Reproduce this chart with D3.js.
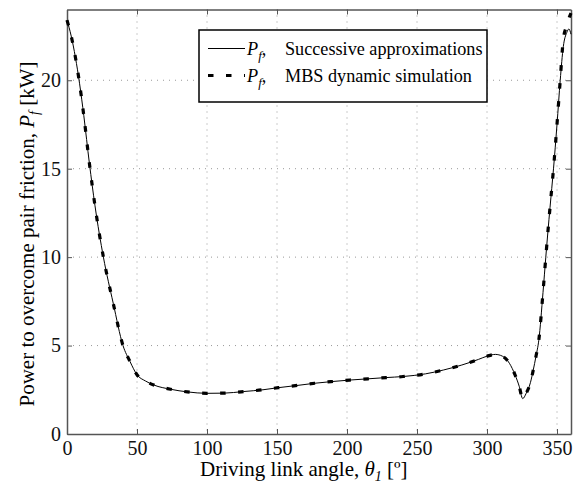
<!DOCTYPE html>
<html>
<head>
<meta charset="utf-8">
<script src="https://cdn.jsdelivr.net/npm/d3@7"></script>
<style>
  body { margin: 0; background: #fff; }
  text, tspan { font-family: 'Liberation Serif', 'Times New Roman', Times, serif; }
</style>
</head>
<body>
<svg id="chart" width="575" height="483"></svg>
<script>
// driving link angle [deg]
var thetaDeg = [0, 3, 6, 9, 12, 16, 20, 26, 33, 40, 45, 50, 56, 62, 74, 86, 100, 112, 126, 140,
  151, 165, 177, 190, 202, 215, 228, 240, 256, 269, 282, 294, 300, 306, 311, 316, 320, 323,
  325.5, 328, 331, 333, 335, 337, 340, 342, 345, 347.5, 350, 352.3, 354.5, 357, 358.5, 360];
// P_f, successive approximations [kW]
var pSuccessive = [23.4, 22.5, 21.3, 19.8, 18.0, 15.3, 12.9, 10.0, 7.4, 5.0, 4.1, 3.35, 3.0, 2.77, 2.53, 2.38, 2.30, 2.31, 2.40, 2.50,
  2.62, 2.75, 2.87, 2.97, 3.05, 3.12, 3.19, 3.25, 3.40, 3.62, 3.90, 4.22, 4.40, 4.50, 4.40, 4.00, 3.35, 2.70,
  2.00, 2.30, 2.90, 3.60, 4.40, 5.30, 8.0, 10.0, 12.8, 15.0, 17.5, 20.0, 21.9, 22.7, 22.9, 22.6];
// P_f, MBS dynamic simulation [kW]
var pMBS = [23.4, 22.5, 21.3, 19.8, 18.0, 15.3, 12.9, 10.0, 7.4, 5.0, 4.1, 3.35, 3.0, 2.77, 2.53, 2.38, 2.30, 2.31, 2.40, 2.50,
  2.62, 2.75, 2.87, 2.97, 3.05, 3.12, 3.19, 3.25, 3.40, 3.62, 3.90, 4.22, 4.40, 4.50, 4.40, 4.00, 3.35, 2.70,
  2.00, 2.30, 2.90, 3.60, 4.40, 5.30, 8.0, 10.0, 12.8, 15.0, 17.5, 20.0, 22.3, 23.1, 23.5, 23.8];
var xTicks = [0, 50, 100, 150, 200, 250, 300, 350];
var yTicks = [0, 5, 10, 15, 20];

var serif = "'Liberation Serif', 'Times New Roman', Times, serif";
var margin = {top: 9.5, right: 4, bottom: 49, left: 67},
  width = 575 - margin.left - margin.right,
  height = 483 - margin.top - margin.bottom;

var svg = d3.select('#chart').attr('font-family', serif);
var g = svg.append('g')
  .attr('transform', 'translate(' + margin.left + ',' + margin.top + ')');

var x = d3.scaleLinear().domain([0, 360]).range([0, width]);
var y = d3.scaleLinear().domain([0, 24]).range([height, 0]);

// grid
g.append('g').selectAll('line').data(xTicks.filter(function(d) { return d > 0; }))
  .enter().append('line')
  .attr('x1', x).attr('x2', x).attr('y1', 0).attr('y2', height)
  .attr('stroke', '#999').attr('stroke-width', 1).attr('stroke-dasharray', '1,5');
g.append('g').selectAll('line').data(yTicks.filter(function(d) { return d > 0; }))
  .enter().append('line')
  .attr('y1', y).attr('y2', y).attr('x1', 0).attr('x2', width)
  .attr('stroke', '#999').attr('stroke-width', 1).attr('stroke-dasharray', '1,5');

// axes (ticks inward, matlab style)
var xAxis = g.append('g').attr('transform', 'translate(0,' + height + ')')
  .call(d3.axisBottom(x).tickValues(xTicks).tickSizeInner(-5).tickSizeOuter(0));
var yAxis = g.append('g')
  .call(d3.axisLeft(y).tickValues(yTicks).tickSizeInner(-5).tickSizeOuter(0).tickPadding(6));
g.append('g').attr('transform', 'translate(' + width + ',0)')
  .call(d3.axisRight(y).tickValues(yTicks).tickSizeInner(-5).tickSizeOuter(0).tickFormat(''));
g.append('g')
  .call(d3.axisTop(x).tickValues(xTicks).tickSizeInner(-5).tickSizeOuter(0).tickFormat(''));
g.selectAll('g').attr('font-family', serif);
g.selectAll('.domain').attr('stroke', '#555').attr('stroke-width', 1.5);
g.selectAll('.tick line').attr('stroke', '#555');
g.selectAll('.tick text').attr('fill', '#111')
  .attr('font-family', serif).attr('font-size', 20);
xAxis.selectAll('.tick text').attr('y', 20.5).attr('dy', 0);

// curves
var line = d3.line().curve(d3.curveMonotoneX);
var solidPts = thetaDeg.map(function(t, i) { return [x(t), y(pSuccessive[i])]; });
var dashPts = thetaDeg.map(function(t, i) { return [x(t), y(pMBS[i])]; });

g.append('path').attr('d', line(solidPts))
  .attr('fill', 'none').attr('stroke', '#000').attr('stroke-width', 1);
g.append('path').attr('d', line(dashPts))
  .attr('fill', 'none').attr('stroke', '#000').attr('stroke-width', 3.2)
  .attr('stroke-dasharray', '5.5,12.5');

// legend
var lg = svg.append('g').attr('transform', 'translate(199,30)');
lg.append('rect').attr('width', 288).attr('height', 72)
  .attr('fill', '#fff').attr('stroke', '#000').attr('stroke-width', 1.5);
var legendItems = [
  {label: 'Successive approximations', w: 1, dash: null},
  {label: 'MBS dynamic simulation', w: 3.2, dash: '5.5,12.5'}
];
legendItems.forEach(function(d, i) {
  var ly = 18.5 + i * 27;
  lg.append('line').attr('x1', 9).attr('x2', 46).attr('y1', ly).attr('y2', ly)
    .attr('stroke', '#000').attr('stroke-width', d.w)
    .attr('stroke-dasharray', d.dash);
  var t = lg.append('text').attr('x', 48).attr('y', ly + 6)
    .attr('font-family', serif).attr('font-size', 18.2);
  t.append('tspan').attr('font-style', 'italic').text('P');
  t.append('tspan').attr('font-style', 'italic').attr('font-size', 13).attr('dy', 5).text('f');
  t.append('tspan').attr('dy', -5).text(',');
  t.append('tspan').attr('x', 86).text(d.label);
});

// axis labels
var xl = svg.append('text').attr('x', 200).attr('y', 476)
  .attr('font-family', serif).attr('font-size', 21);
xl.append('tspan').text('Driving link angle,  ');
xl.append('tspan').attr('font-style', 'italic').text('θ');
xl.append('tspan').attr('font-style', 'italic').attr('font-size', 14).attr('dy', 5).text('1');
xl.append('tspan').attr('dy', -5).text(' [º]');

var yl = svg.append('text')
  .attr('transform', 'translate(34,234) rotate(-90)')
  .attr('text-anchor', 'middle').attr('font-family', serif).attr('font-size', 21);
yl.append('tspan').text('Power to overcome pair friction,  ');
yl.append('tspan').attr('font-style', 'italic').text('P');
yl.append('tspan').attr('font-style', 'italic').attr('font-size', 14).attr('dy', 5).text('f');
yl.append('tspan').attr('dy', -5).text(' [kW]');
</script>
</body>
</html>
